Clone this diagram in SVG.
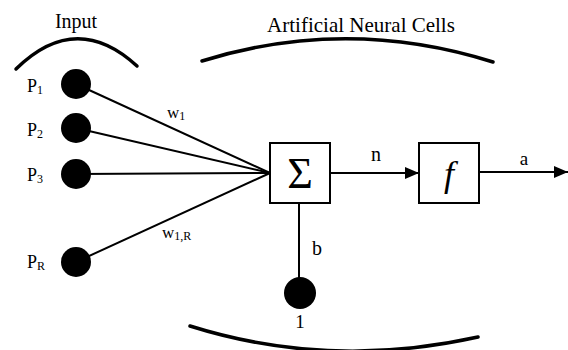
<svg xmlns="http://www.w3.org/2000/svg" width="568" height="350" viewBox="0 0 568 350" font-family="'Liberation Serif', 'DejaVu Serif', serif">
<style>
text{font-family:"Liberation Serif","DejaVu Serif",serif;fill:#000}
.lbl{font-size:18px}
.sub{font-size:12px}
.edge{stroke:#000;stroke-width:2;fill:none}
.arc{stroke:#000;stroke-width:3.5;fill:none;stroke-linecap:round}
.box{fill:#fff;stroke:#000;stroke-width:2}
.dot{fill:#000}
</style>
<defs>
<marker id="ah" markerWidth="14" markerHeight="12" refX="14" refY="6" orient="auto" markerUnits="userSpaceOnUse">
<path d="M0,0 L14,6 L0,12 Z" fill="#000"/>
</marker>
</defs>
<rect width="568" height="350" fill="#fff"/>
<g id="brackets">
<path class="arc" d="M16,69 Q76,10 137,66"/>
<path class="arc" d="M202,61 Q347,16 493,62"/>
<path class="arc" d="M190,326 Q330,370 478,337"/>
</g>
<g id="titles">
<text x="76" y="28" text-anchor="middle" font-size="20">Input</text>
<text x="361" y="32" text-anchor="middle" font-size="21">Artificial Neural Cells</text>
</g>
<g id="connectors">
<line class="edge" x1="76" y1="84" x2="270" y2="173"/>
<line class="edge" x1="76" y1="128" x2="270" y2="173"/>
<line class="edge" x1="76" y1="174" x2="270" y2="173"/>
<line class="edge" x1="76" y1="262" x2="270" y2="173"/>
<line class="edge" x1="299" y1="203" x2="299" y2="293"/>
<line class="edge" x1="330" y1="173" x2="419" y2="173" marker-end="url(#ah)"/>
<line class="edge" x1="479" y1="172" x2="568" y2="172" marker-end="url(#ah)"/>
<text x="167" y="118" font-size="17">w<tspan class="sub" dy="2">1</tspan></text>
<text x="162" y="238" font-size="17">w<tspan class="sub" dy="2">1,R</tspan></text>
<text x="376" y="161" text-anchor="middle" font-size="20">n</text>
<text x="524" y="165" text-anchor="middle" font-size="19">a</text>
<text x="317" y="255" text-anchor="middle" font-size="20">b</text>
</g>
<g id="p1"><circle class="dot" cx="76" cy="84" r="15"/><text class="lbl" x="27" y="92">P<tspan class="sub" dy="2">1</tspan></text></g>
<g id="p2"><circle class="dot" cx="76" cy="128" r="15"/><text class="lbl" x="27" y="136">P<tspan class="sub" dy="2">2</tspan></text></g>
<g id="p3"><circle class="dot" cx="76" cy="174" r="15"/><text class="lbl" x="27" y="181">P<tspan class="sub" dy="2">3</tspan></text></g>
<g id="pR"><circle class="dot" cx="76" cy="262" r="15"/><text class="lbl" x="27" y="268">P<tspan class="sub" dy="2">R</tspan></text></g>
<g id="sum"><rect class="box" x="270" y="143" width="60" height="60"/><text x="300" y="188" text-anchor="middle" font-size="44">Σ</text></g>
<g id="func"><rect class="box" x="419" y="143" width="60" height="60"/><text x="449" y="186" text-anchor="middle" font-size="36" font-style="italic">f</text></g>
<g id="bias"><circle class="dot" cx="300" cy="293" r="16"/><text x="300" y="328" text-anchor="middle" font-size="19">1</text></g>
</svg>
